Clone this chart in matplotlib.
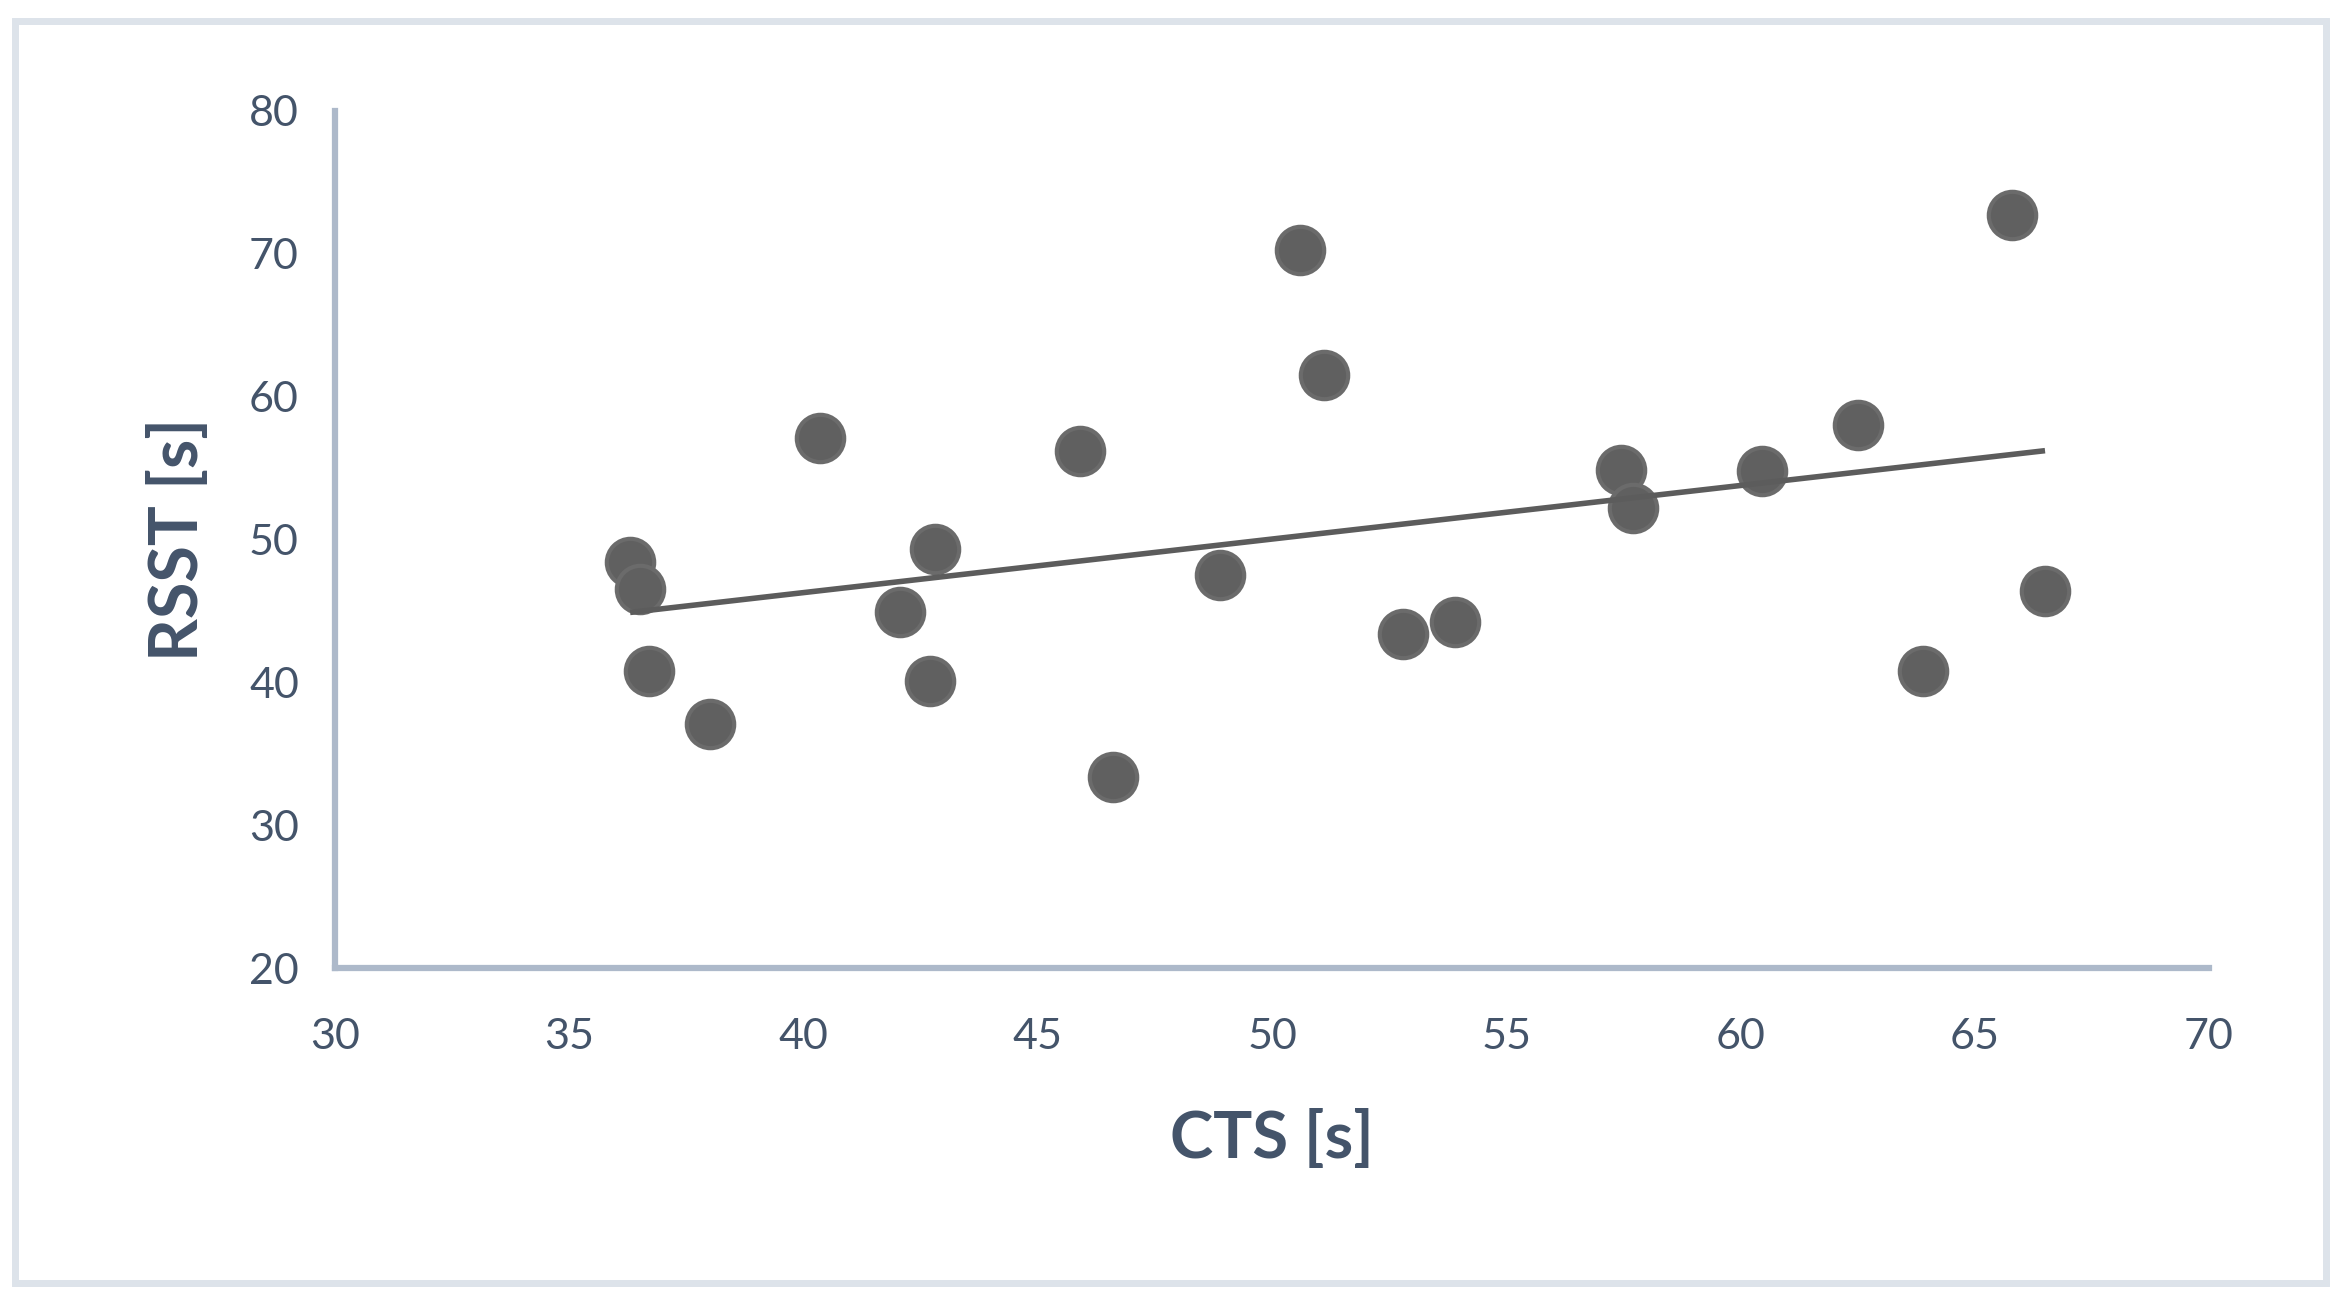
import numpy as np
import matplotlib.pyplot as plt
from matplotlib.patches import Rectangle

# CTS [s] vs RSST [s]
cts = [36.3, 36.5, 36.7, 38.0, 40.35, 42.05, 42.7, 42.8, 45.9, 46.6, 48.9,
       50.6, 51.1, 52.8, 53.9, 57.45, 57.7, 60.45, 62.5, 63.9, 65.8, 66.5]
rsst = [48.4, 46.5, 40.8, 37.1, 57.1, 44.9, 40.1, 49.3, 56.2, 33.4, 47.5,
        70.3, 61.5, 43.4, 44.2, 54.9, 52.2, 54.8, 58.0, 40.8, 72.7, 46.4]

x_ticks = [30, 35, 40, 45, 50, 55, 60, 65, 70]
y_ticks = [20, 30, 40, 50, 60, 70, 80]

TEXT = "#44546a"
SPINE = "#adb9ca"
DOT = "#606060"

plt.rcParams['font.family'] = ['Lato', 'DejaVu Sans']

fig = plt.figure(figsize=(23.51, 13.10), dpi=100)
fig.patches.append(Rectangle((15 / 2351, 1 - 1283 / 1310), 2311 / 2351, 1262 / 1310,
                             transform=fig.transFigure, fill=False,
                             edgecolor="#dde3ea", linewidth=5))

ax = fig.add_axes([335 / 2351, 1 - 968 / 1310, 1874 / 2351, 857 / 1310])

ax.scatter(cts, rsst, s=46 ** 2 * 0.55, color=DOT, edgecolor="#6b6b6b",
           linewidth=3, zorder=3)

# linear trend line over the data range
slope, icpt = np.polyfit(cts, rsst, 1)
xs = np.array([min(cts), max(cts)])
ax.plot(xs, slope * xs + icpt, color="#5c5c5c", linewidth=4, zorder=4,
        solid_capstyle='butt')

ax.set_xlim(30, 70)
ax.set_ylim(20, 80)
ax.set_xticks(x_ticks)
ax.set_yticks(y_ticks)
ax.tick_params(length=0, labelsize=31, colors=TEXT, pad=26)
ax.tick_params(axis='x', pad=36)

for side in ['top', 'right']:
    ax.spines[side].set_visible(False)
for side in ['left', 'bottom']:
    ax.spines[side].set_color(SPINE)
    ax.spines[side].set_linewidth(4.5)

ax.set_xlabel("CTS [s]", fontsize=47, fontweight='bold', color=TEXT, labelpad=38)
ax.set_ylabel("RSST [s]", fontsize=48, fontweight='bold', color=TEXT, labelpad=28)

plt.savefig("out.png", dpi=100)
